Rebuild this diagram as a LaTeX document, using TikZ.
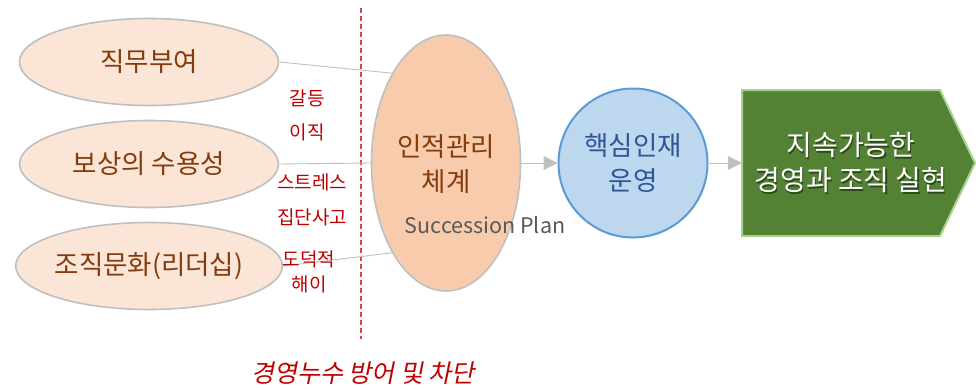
\documentclass[tikz,border=0pt]{standalone}
\usepackage{fontspec}
\setmainfont{Noto Sans CJK KR}
\newfontfamily\slantfont[FakeSlant=0.2]{Noto Sans CJK KR}
\usetikzlibrary{shapes.geometric,arrows.meta}
\definecolor{ellgray}{HTML}{BFBFBF}
\definecolor{peachlight}{HTML}{FBE5D6}
\definecolor{peach}{HTML}{F8CBAD}
\definecolor{brownt}{HTML}{843C0C}
\definecolor{bluefill}{HTML}{BDD7EE}
\definecolor{blueline}{HTML}{5B9BD5}
\definecolor{bluetext}{HTML}{2F5597}
\definecolor{greenfill}{HTML}{548235}
\definecolor{greenline}{HTML}{A9D18E}
\definecolor{darkred}{HTML}{C00000}
\definecolor{dashred}{RGB}{208,72,72}
\definecolor{graytext}{HTML}{595959}
\definecolor{linegray}{HTML}{BFBFBF}
\tikzset{
  leftell/.style={ellipse, draw=ellgray, line width=1.6pt, fill=peachlight,
    minimum width=259pt, minimum height=87pt, inner sep=0pt, text=brownt,
    font=\fontsize{26.5}{35}\selectfont},
  conn/.style={draw=linegray, line width=0.9pt},
  arr/.style={draw=linegray, line width=1pt, -{Triangle[length=14pt,width=14pt]}},
  redlbl/.style={text=darkred, font=\fontsize{19}{20}\selectfont, inner sep=0pt},
}
\begin{document}
\begin{tikzpicture}[x=1pt,y=-1pt]
\useasboundingbox (0,0) rectangle (976,389);
% dashed separator
\coordinate (dtop) at (361,8);
\coordinate (dbot) at (361,339);
\draw[dashred, line width=1.4pt, dash pattern=on 5pt off 3pt] (dtop) -- (dbot);
% left ellipses
\node[leftell] (a) at (149,62) {직무부여};
\node[leftell] (b) at (149,164) {보상의 수용성};
\node[leftell] (d) at (149,266) {조직문화(리더십)};
% center ellipse
\node[ellipse, draw=ellgray, line width=1.6pt, fill=peach, minimum width=149pt,
  minimum height=256pt, inner sep=0pt] (c) at (446,163) {};
\node[text=brownt, align=center, font=\fontsize{26.5}{35}\selectfont] (ctext) at (446,164) {인적관리\\체계};
\node[text=graytext, font=\fontsize{21.5}{22}\selectfont, inner sep=0pt] (sp) at (485,225) {Succession Plan};
% connectors
\draw[conn] (a.east) -- (c.121);
\draw[conn] (b.east) -- (c.west);
\draw[conn] (d.east) -- (c.239);
% red labels
\node[redlbl] (l1) at (307,98) {갈등};
\node[redlbl] (l2) at (307,132) {이직};
\node[redlbl] (l3) at (312,182) {스트레스};
\node[redlbl] (l4) at (312,217) {집단사고};
\node[redlbl] (l5) at (309,259) {도덕적};
\node[redlbl] (l6) at (309,284) {해이};
% circle
\node[circle, draw=blueline, line width=2pt, fill=bluefill, minimum size=149pt,
  inner sep=0pt, text=bluetext, align=center, font=\fontsize{26.5}{35}\selectfont] (e) at (633,163) {핵심인재\\운영};
\draw[arr] (c.east) -- (e.west);
% green pentagon
\node[minimum width=233pt, minimum height=146pt, inner sep=0pt] (g) at (858.5,163) {};
\coordinate (g1) at (742,90);
\coordinate (g2) at (940,90);
\coordinate (g3) at (975,163);
\coordinate (g4) at (940,236);
\coordinate (g5) at (742,236);
\draw[greenline, fill=greenfill, line width=2pt, line join=miter] (g1) -- (g2) -- (g3) -- (g4) -- (g5) -- cycle;
\node[text=black, opacity=0.45, align=center, font=\fontsize{28}{35}\selectfont] at (852.2,164.2) {지속가능한\\경영과 조직 실현};
\node[text=white, align=center, font=\fontsize{28}{35}\selectfont] (gt) at (851,163) {지속가능한\\경영과 조직 실현};
\draw[arr] (e.east) -- (g.west);
% bottom caption
\node[text=darkred, font=\slantfont\fontsize{25}{28}\selectfont] (cap) at (363,373) {경영누수 방어 및 차단};
\end{tikzpicture}
\end{document}
